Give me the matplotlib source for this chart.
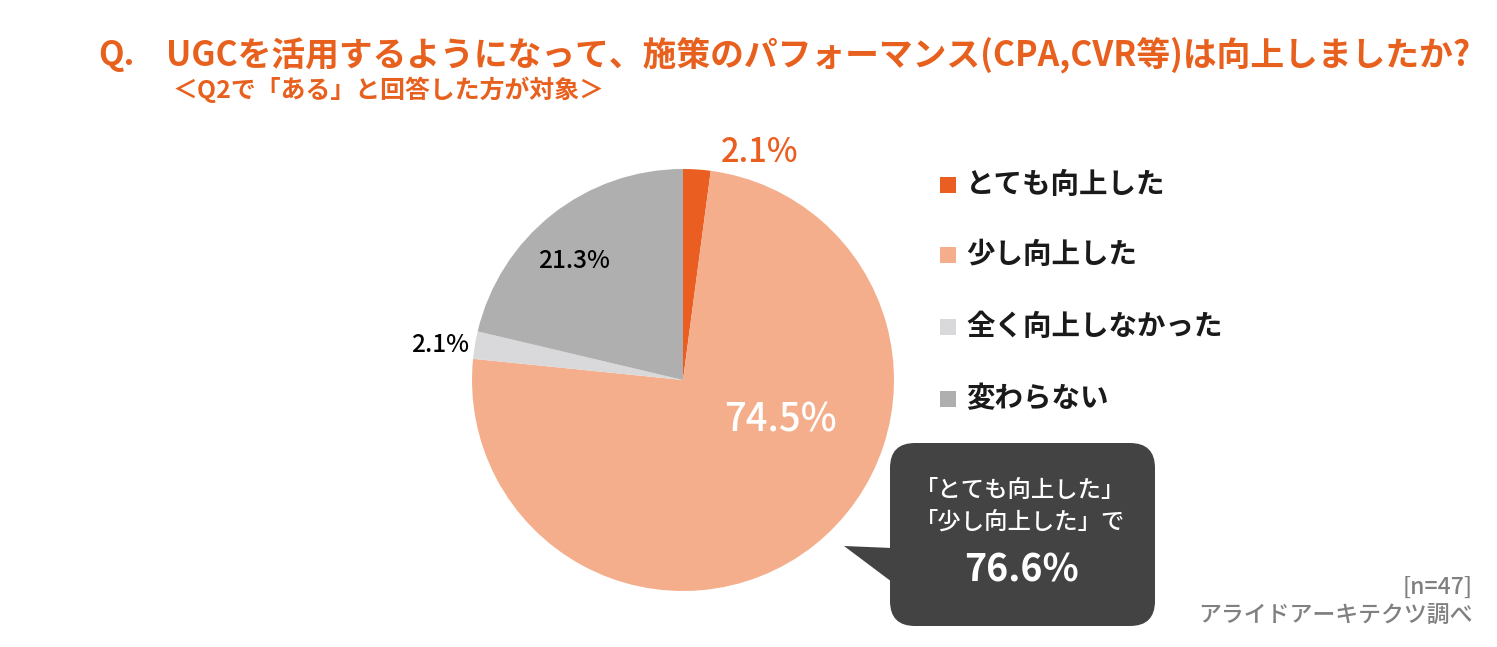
import matplotlib.pyplot as plt
from matplotlib.patches import FancyBboxPatch, Polygon

plt.rcParams['font.family'] = ['Noto Sans CJK JP', 'DejaVu Sans']

# データ
labels = ["とても向上した", "少し向上した", "全く向上しなかった", "変わらない"]
values = [2.1, 74.5, 2.1, 21.3]
colors = ["#EB5E21", "#F4AE8C", "#D9D9DB", "#AEAFAE"]
pct_text = ["2.1%", "74.5%", "2.1%", "21.3%"]
total_text = "76.6%"
n_text = "[n=47]"

W, H = 1497, 647
fig = plt.figure(figsize=(W / 100, H / 100), dpi=100)

# 円グラフ (中心 683,380 半径 211 px)
cx, cy, r = 683, 380, 211
ax = fig.add_axes([(cx - r) / W, (H - cy - r) / H, 2 * r / W, 2 * r / H])
ax.pie(values, colors=colors, startangle=90, counterclock=False, radius=1,
       wedgeprops=dict(linewidth=0))
ax.set_xlim(-1, 1)
ax.set_ylim(-1, 1)
ax.set_aspect('equal')
ax.axis('off')

# テキスト用オーバーレイ (ピクセル座標)
ov = fig.add_axes([0, 0, 1, 1], zorder=5)
ov.set_xlim(0, W)
ov.set_ylim(H, 0)
ov.axis('off')

orange = "#E8601E"
ov.text(98, 55, "Q.", color=orange, fontsize=24, fontweight='bold', va='center')
ov.text(166, 55, "UGCを活用するようになって、施策のパフォーマンス(CPA,CVR等)は向上しましたか?",
        color=orange, fontsize=24.3, fontweight='bold', va='center')
ov.text(172, 90, "＜Q2で「ある」と回答した方が対象＞", color=orange, fontsize=17.9,
        fontweight='bold', va='center')

# ラベル
ov.text(760, 152, pct_text[0], color="#EB5E21", fontsize=23.5, fontweight='medium',
        ha='center', va='center')
ov.text(780, 420, pct_text[1], color="white", fontsize=27.5, fontweight='medium',
        ha='center', va='center')
ov.text(440, 345, pct_text[2], color="black", fontsize=17.5, fontweight='medium',
        ha='center', va='center')
ov.text(574, 261, pct_text[3], color="black", fontsize=17.5, fontweight='medium',
        ha='center', va='center')

# 凡例
leg_y = [185, 255, 327, 399]
for lab, col, y in zip(labels, colors, leg_y):
    ov.add_patch(plt.Rectangle((940, y - 8), 16, 16, color=col, linewidth=0))
    ov.text(966, y, lab, color="#1A1A1A", fontsize=20.5, fontweight='bold', va='center')

# 吹き出し
bub = "#434343"
ov.add_patch(FancyBboxPatch((890, 443), 265, 183, boxstyle="round,pad=0,rounding_size=25",
                            facecolor=bub, edgecolor='none'))
ov.add_patch(Polygon([(844, 546), (892, 548), (892, 582)], closed=True,
                     facecolor=bub, edgecolor='none'))
ov.text(1020, 490, "「とても向上した」", color="white", fontsize=16.8, fontweight='medium',
        ha='center', va='center')
ov.text(1020, 522, "「少し向上した」で", color="white", fontsize=16.8, fontweight='medium',
        ha='center', va='center')
ov.text(1021, 570, total_text, color="white", fontsize=27, fontweight='bold',
        ha='center', va='center')

# 出典
ov.text(1473, 587, n_text, color="#808080", fontsize=16.5, fontweight='medium',
        ha='right', va='center')
ov.text(1473, 615, "アライドアーキテクツ調べ", color="#808080", fontsize=16.5,
        fontweight='medium', ha='right', va='center')

fig.savefig("out.png", dpi=100)
